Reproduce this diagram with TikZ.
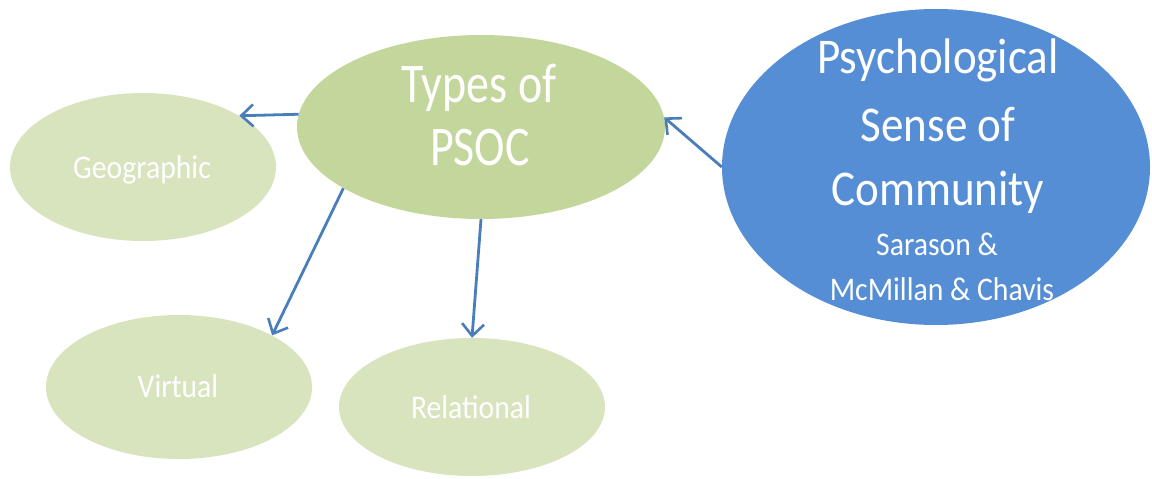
\documentclass[tikz,border=0pt]{standalone}
\usepackage{fontspec}
\setmainfont{Carlito}
\newfontfamily\typesfont[FakeStretch=0.82]{Carlito}
\newfontfamily\bluefont[FakeStretch=0.9]{Carlito}
\newfontfamily\smallfont[FakeStretch=0.9]{Carlito}
\usetikzlibrary{arrows.meta,shapes.geometric}
\definecolor{lightgreen}{HTML}{D7E4BD}
\definecolor{midgreen}{HTML}{C3D69B}
\definecolor{psocblue}{HTML}{558ED5}
\definecolor{arrowblue}{HTML}{4A7EBB}
\tikzset{
  bubble/.style={ellipse, inner sep=0pt, draw=none},
  leaf/.style={bubble, fill=lightgreen, minimum width=266pt, minimum height=148pt},
  txt/.style={anchor=base, inner sep=0pt, text=white},
  link/.style={draw=arrowblue, line width=2.8pt, -{Straight Barb[length=12pt,width=22pt,line width=2.6pt]}},
}
\begin{document}
\begin{tikzpicture}[x=1pt,y=-1pt]
\useasboundingbox (0,0) rectangle (1152,479);
% ellipses
\node[bubble, fill=midgreen, minimum width=368pt, minimum height=184pt] (types) at (481,127) {};
\node[bubble, fill=psocblue, minimum width=428pt, minimum height=316pt] (psoc) at (936,167) {};
\node[leaf] (geo) at (143,167) {};
\node[leaf, minimum height=144pt] (virt) at (179,387) {};
\node[leaf, minimum height=138pt] (rel) at (472,407) {};
% texts
\node[txt, font=\typesfont\fontsize{56}{63}\selectfont] (types1) at (479,102) {Types of};
\node[txt, font=\typesfont\fontsize{56}{63}\selectfont] (types2) at (480,165) {PSOC};
\node[txt, font=\bluefont\fontsize{50}{66}\selectfont] (psoc1) at (938,73) {Psychological};
\node[txt, font=\bluefont\fontsize{50}{66}\selectfont] (psoc2) at (938,141) {Sense of};
\node[txt, font=\bluefont\fontsize{50}{66}\selectfont] (psoc3) at (938,205) {Community};
\node[txt, font=\smallfont\fontsize{33}{45}\selectfont] (psoc4) at (937,255) {Sarason \&};
\node[txt, font=\smallfont\fontsize{33}{45}\selectfont] (psoc5) at (942,300) {McMillan \& Chavis};
\node[txt, font=\smallfont\fontsize{33}{40}\selectfont] (geot) at (142,178) {Geographic};
\node[txt, font=\smallfont\fontsize{33}{40}\selectfont] (virtt) at (178,397) {Virtual};
\node[txt, font=\smallfont\fontsize{33}{40}\selectfont] (relt) at (471,418) {Relational};
% connectors
\draw[link] (types.176) -- (geo.28);
\draw[link] (types.204) -- (virt.29);
\draw[link] (types.270) -- (rel.90);
\draw[link] (psoc.180) -- (types.3);
\end{tikzpicture}
\end{document}
